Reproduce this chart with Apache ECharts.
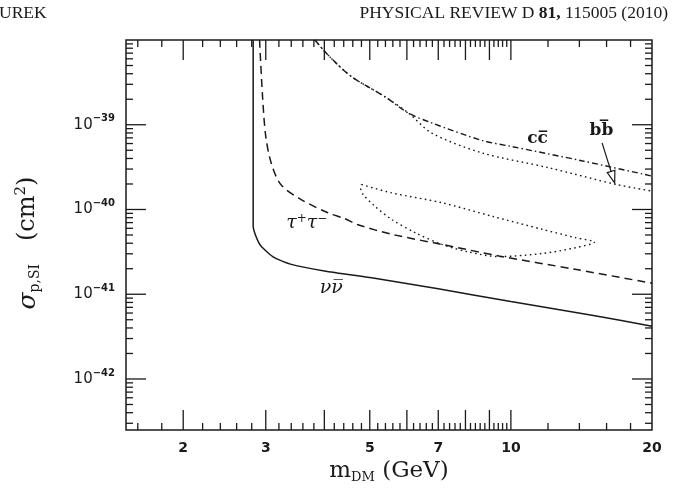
<!DOCTYPE html>
<html>
<head>
<meta charset="utf-8">
<script src="https://cdn.jsdelivr.net/npm/echarts@6/dist/echarts.min.js"></script>
<style>
  html, body { margin: 0; padding: 0; background: #fff; }
  #chart { width: 681px; height: 493px; }
</style>
</head>
<body>
<div id="chart"></div>
<script>
// axis range
const xMin = 1.51, xMax = 20;
const yMin = 2.5e-43, yMax = 1e-38;

// tick marks and labels
const xMajorTicks = [2, 3, 4, 5, 6, 7, 8, 9, 10];
const xMinorTicks = [1.6, 1.8, 2.2, 2.4, 2.6, 2.8, 3.2, 3.4, 3.6, 3.8, 4.2, 4.4, 4.6, 4.8,
  5.2, 5.4, 5.6, 5.8, 6.2, 6.4, 6.6, 6.8, 7.2, 7.4, 7.6, 7.8, 8.2, 8.4, 8.6, 8.8,
  9.2, 9.4, 9.6, 9.8, 12, 14, 16, 18];
const xTickLabels = [2, 3, 5, 7, 10, 20];
const yDecades = [-42, -41, -40, -39];
const yMantissas = [2, 3, 4, 5, 6, 7, 8, 9];

// nu nubar (solid)
const nuMass = [2.82, 2.82, 2.857, 2.93, 3.13, 3.40, 4.00, 5.12, 7.0, 10, 15, 20];
const nuSigma = [1e-38, 6.37e-41, 4.86e-41, 3.70e-41, 2.70e-41, 2.25e-41, 1.88e-41, 1.54e-41, 1.16e-41, 8.2e-42, 5.6e-42, 4.2e-42];

// tau+ tau- (dashed)
const tauMass = [2.91, 2.953, 3.00, 3.08, 3.23, 3.57, 4.07, 4.42, 4.72, 5.57, 7.13, 9.43, 13.7, 20];
const tauSigma = [1e-38, 2.15e-39, 7.28e-40, 3.57e-40, 1.97e-40, 1.31e-40, 9.14e-41, 7.8e-41, 6.6e-41, 5.1e-41, 3.87e-41, 2.83e-41, 1.97e-41, 1.35e-41];

// c cbar (dash-dot)
const ccMass = [3.82, 4.07, 4.57, 5.38, 6.05, 6.78, 8.68, 10, 14.23, 20];
const ccSigma = [1e-38, 6.67e-39, 3.70e-39, 2.15e-39, 1.37e-39, 1.05e-39, 6.53e-40, 5.56e-40, 3.74e-40, 2.48e-40];

// b bbar (dotted)
const bbMass = [3.82, 4.07, 4.57, 5.38, 6.05, 6.78, 8.68, 12.07, 16.8, 20];
const bbSigma = [1e-38, 6.67e-39, 3.70e-39, 2.15e-39, 1.37e-39, 7.98e-40, 4.65e-40, 3.10e-40, 1.97e-40, 1.65e-40];

// b bbar closed region (dotted)
const islandMass = [4.80, 5.57, 7.13, 9.12, 11.68, 13.74, 15.08, 13.74, 11.68, 9.43, 8.13, 7.13, 6.25, 5.57, 5.13, 4.84, 4.78, 4.80];
const islandSigma = [1.97e-40, 1.57e-40, 1.20e-40, 8.33e-41, 5.82e-41, 4.65e-41, 4.12e-41, 3.54e-41, 3.03e-41, 2.78e-41, 3.15e-41, 3.87e-41, 5.32e-41, 7.62e-41, 1.09e-40, 1.50e-40, 1.80e-40, 1.97e-40];

// curve labels
const labelText = ['tau', 'nu', 'cc', 'bb'];
const labelMass = [3.67, 4.14, 11.4, 15.6];
const labelSigma = [6.84e-41, 1.18e-41, 6.84e-40, 8.5e-40];

// arrow from bb label to curve
const arrowMass = [15.65, 16.65];
const arrowSigma = [6.1e-40, 2.06e-40];

const ink = '#1a1a1a';
const pairs = (a, b) => a.map((v, i) => [v, b[i]]);

const chart = echarts.init(document.getElementById('chart'));

function xTickItem(params, api) {
    const v = api.value(0);
    const len = api.value(2);
    const b = api.coord([v, yMin]);
    const t = api.coord([v, yMax]);
    return {
        type: 'group',
        children: [
            { type: 'line', shape: { x1: b[0], y1: b[1], x2: b[0], y2: b[1] - len }, style: { stroke: ink, lineWidth: 1.3 } },
            { type: 'line', shape: { x1: t[0], y1: t[1], x2: t[0], y2: t[1] + len }, style: { stroke: ink, lineWidth: 1.3 } }
        ]
    };
}

function yTickItem(params, api) {
    const v = api.value(1);
    const len = api.value(2);
    const l = api.coord([xMin, v]);
    const r = api.coord([xMax, v]);
    return {
        type: 'group',
        children: [
            { type: 'line', shape: { x1: l[0], y1: l[1], x2: l[0] + len, y2: l[1] }, style: { stroke: ink, lineWidth: 1.3 } },
            { type: 'line', shape: { x1: r[0], y1: r[1], x2: r[0] - len, y2: r[1] }, style: { stroke: ink, lineWidth: 1.3 } }
        ]
    };
}

const xTickData = xMajorTicks.map(v => [v, yMin, 20]).concat(xMinorTicks.map(v => [v, yMin, 7]));
const yTickData = [];
yDecades.forEach(e => yTickData.push([xMin, Math.pow(10, e), 20]));
[-43, -42, -41, -40, -39].forEach(e => {
    yMantissas.forEach(k => {
        const v = k * Math.pow(10, e);
        if (v > yMin && v < yMax) yTickData.push([xMin, v, 7]);
    });
});

const labelFont = 'DejaVu Sans';
const serif = 'DejaVu Serif';

chart.setOption({
    backgroundColor: '#fff',
    animation: false,
    title: [{
        text: 'UREK',
        left: -1,
        top: 4,
        padding: 0,
        textStyle: { fontFamily: 'Liberation Serif', fontSize: 17.5, fontWeight: 'normal', color: ink }
    }, {
        text: '{a|PHYSICAL REVIEW D }{b|81,}{a| 115005 (2010)}',
        right: 13,
        top: 4,
        padding: 0,
        textStyle: {
            fontWeight: 'normal',
            rich: {
                a: { fontFamily: 'Liberation Serif', fontSize: 17.5, fontWeight: 'normal', color: ink },
                b: { fontFamily: 'Liberation Serif', fontSize: 17.5, fontWeight: 'bold', color: ink }
            }
        }
    }],
    grid: {
        left: 126,
        right: 29,
        top: 40,
        bottom: 63,
        outerBoundsMode: 'none',
        containLabel: false,
        show: true,
        borderColor: ink,
        borderWidth: 1.5,
        backgroundColor: 'transparent'
    },
    xAxis: {
        type: 'log',
        min: xMin,
        max: xMax,
        axisLine: { show: false },
        axisTick: { show: false },
        axisLabel: { show: false },
        splitLine: { show: false },
        name: '{m|m}{sub|DM}{t| (GeV)}',
        nameLocation: 'middle',
        nameGap: 28,
        nameTextStyle: {
            rich: {
                m: { fontFamily: serif, fontSize: 23, color: ink, lineHeight: 26 },
                sub: { fontFamily: serif, fontSize: 13, color: ink, verticalAlign: 'bottom', lineHeight: 15 },
                t: { fontFamily: serif, fontSize: 23, color: ink, lineHeight: 26 }
            }
        }
    },
    yAxis: {
        type: 'log',
        min: yMin,
        max: yMax,
        axisLine: { show: false },
        axisTick: { show: false },
        axisLabel: { show: false },
        splitLine: { show: false },
        name: '{s|σ}{sub|p,SI}{t|   (cm}{sup|2}{t|)}',
        nameLocation: 'middle',
        nameRotate: 90,
        nameGap: 84,
        nameTextStyle: {
            padding: [0, 16, 0, 0],
            rich: {
                s: { fontFamily: serif, fontSize: 25, fontStyle: 'italic', color: ink, lineHeight: 28 },
                sub: { fontFamily: serif, fontSize: 14, color: ink, verticalAlign: 'bottom', lineHeight: 16 },
                sup: { fontFamily: serif, fontSize: 15, color: ink, verticalAlign: 'top', lineHeight: 16 },
                t: { fontFamily: serif, fontSize: 24, color: ink, lineHeight: 28 }
            }
        }
    },
    series: [
        {
            name: 'xticks',
            type: 'custom',
            renderItem: xTickItem,
            data: xTickData,
            silent: true,
            z: 5
        },
        {
            name: 'yticks',
            type: 'custom',
            renderItem: yTickItem,
            data: yTickData,
            silent: true,
            z: 5
        },
        {
            name: 'xlabels',
            type: 'custom',
            data: xTickLabels.map(v => [v, yMin]),
            renderItem: (params, api) => {
                const p = api.coord([api.value(0), api.value(1)]);
                return {
                    type: 'text',
                    x: p[0], y: p[1] + 18,
                    style: {
                        text: String(api.value(0)),
                        fontFamily: labelFont, fontSize: 14, fontWeight: 'bold',
                        fill: ink, align: 'center', verticalAlign: 'middle'
                    }
                };
            },
            silent: true
        },
        {
            name: 'ylabels',
            type: 'custom',
            data: yDecades.map(e => [xMin, Math.pow(10, e), e]),
            renderItem: (params, api) => {
                const p = api.coord([api.value(0), api.value(1)]);
                return {
                    type: 'text',
                    x: p[0] - 11, y: p[1],
                    style: {
                        text: '{a|10}{b|−' + Math.abs(api.value(2)) + '}',
                        align: 'right', verticalAlign: 'middle',
                        rich: {
                            a: { fontFamily: labelFont, fontSize: 15, fill: ink, lineHeight: 22 },
                            b: { fontFamily: labelFont, fontSize: 10, fontWeight: 'bold', fill: ink, verticalAlign: 'top', lineHeight: 12 }
                        }
                    }
                };
            },
            silent: true
        },
        {
            name: 'νν̄',
            type: 'line',
            data: pairs(nuMass, nuSigma),
            symbol: 'none',
            smooth: 0.2,
            clip: true,
            lineStyle: { color: ink, width: 1.5, type: 'solid' }
        },
        {
            name: 'τ+τ−',
            type: 'line',
            data: pairs(tauMass, tauSigma),
            symbol: 'none',
            smooth: 0.3,
            clip: true,
            lineStyle: { color: ink, width: 1.5, type: [8, 5] }
        },
        {
            name: 'cc̄',
            type: 'line',
            data: pairs(ccMass, ccSigma),
            symbol: 'none',
            smooth: 0.3,
            clip: true,
            lineStyle: { color: ink, width: 1.4, type: [6, 3, 1.5, 3] }
        },
        {
            name: 'bb̄',
            type: 'line',
            data: pairs(bbMass, bbSigma),
            symbol: 'none',
            smooth: 0.3,
            clip: true,
            lineStyle: { color: ink, width: 1.4, type: [1.6, 3.4] }
        },
        {
            name: 'bb̄ region',
            type: 'line',
            data: pairs(islandMass, islandSigma),
            symbol: 'none',
            smooth: 0.3,
            clip: true,
            lineStyle: { color: ink, width: 1.4, type: [1.6, 3.4] }
        },
        {
            name: 'labels',
            type: 'custom',
            data: labelMass.map((m, i) => [m, labelSigma[i], i]),
            renderItem: (params, api) => {
                const p = api.coord([api.value(0), api.value(1)]);
                const kind = labelText[api.value(2)];
                let text;
                if (kind === 'tau') text = '{g|τ}{s|+}{g|τ}{s|−}';
                else if (kind === 'nu') text = '{g|νν\u0305}';
                else if (kind === 'cc') text = '{r|cc\u0305}';
                else text = '{r|bb\u0305}';
                return {
                    type: 'text',
                    x: p[0], y: p[1],
                    style: {
                        text: text,
                        align: 'center', verticalAlign: 'middle',
                        rich: {
                            g: { fontFamily: serif, fontSize: 19, fontStyle: 'italic', fill: ink, lineHeight: 22 },
                            s: { fontFamily: serif, fontSize: 12, fill: ink, verticalAlign: 'top', lineHeight: 12 },
                            r: { fontFamily: serif, fontSize: 17, fontWeight: 'bold', fill: ink, lineHeight: 22 }
                        }
                    }
                };
            },
            silent: true
        },
        {
            name: 'arrow',
            type: 'custom',
            data: [[arrowMass[0], arrowSigma[0], arrowMass[1], arrowSigma[1]]],
            renderItem: (params, api) => {
                const a = api.coord([api.value(0), api.value(1)]);
                const b = api.coord([api.value(2), api.value(3)]);
                const dx = b[0] - a[0], dy = b[1] - a[1];
                const d = Math.sqrt(dx * dx + dy * dy);
                const ux = dx / d, uy = dy / d;
                const hl = 12, hw = 4;
                const bx = b[0] - ux * hl, by = b[1] - uy * hl;
                return {
                    type: 'group',
                    children: [
                        { type: 'line', shape: { x1: a[0], y1: a[1], x2: bx, y2: by }, style: { stroke: ink, lineWidth: 1.2 } },
                        {
                            type: 'polygon',
                            shape: { points: [[b[0], b[1]], [bx - uy * hw, by + ux * hw], [bx + uy * hw, by - ux * hw]] },
                            style: { fill: '#fff', stroke: ink, lineWidth: 1.2 }
                        }
                    ]
                };
            },
            silent: true,
            z: 6
        }
    ]
});
</script>
</body>
</html>
